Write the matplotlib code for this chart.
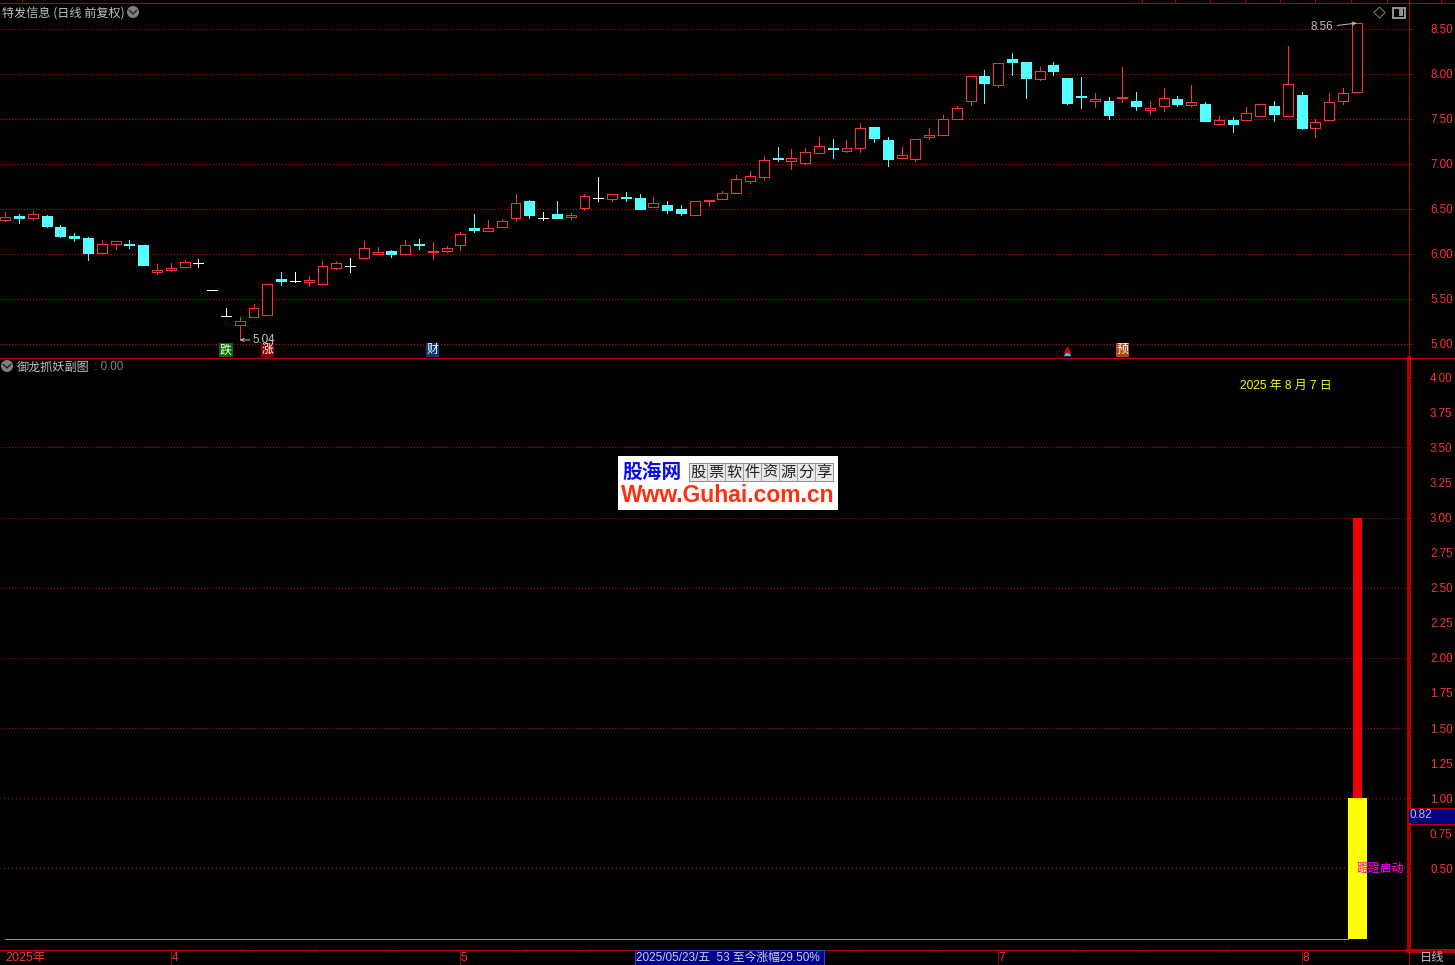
import matplotlib
matplotlib.use("Agg")
import matplotlib.pyplot as plt
from matplotlib.patches import Rectangle, Circle, Polygon
from matplotlib.lines import Line2D
from matplotlib.transforms import Affine2D, blended_transform_factory
from matplotlib.ticker import FixedLocator, FormatStrFormatter, NullFormatter

W, H = 1455, 965
FONT = ['Liberation Sans', 'Noto Sans CJK SC', 'DejaVu Sans']
CJK = ['Noto Sans CJK SC', 'DejaVu Sans']
plt.rcParams['font.family'] = FONT

# ---- daily candles -------------------------------------------------------
opens = [6.37,6.42,6.40,6.42,6.29,6.19,6.17,6.01,6.11,6.11,6.09,5.80,5.82,5.85,5.89,5.59,5.31,5.21,5.30,5.32,
         5.72,5.69,5.68,5.66,5.84,5.86,5.95,6.00,6.03,5.99,6.11,6.02,6.03,6.09,6.28,6.25,6.29,6.40,6.58,6.40,
         6.44,6.41,6.51,6.62,6.61,6.63,6.62,6.52,6.54,6.49,6.43,6.58,6.61,6.67,6.81,6.85,7.06,7.03,7.01,7.12,
         7.17,7.14,7.17,7.40,7.26,7.06,7.05,7.29,7.32,7.49,7.69,7.97,7.87,8.16,8.13,7.94,8.10,7.95,7.75,7.69,
         7.69,7.73,7.70,7.59,7.64,7.72,7.65,7.66,7.44,7.48,7.48,7.53,7.64,7.53,7.76,7.39,7.48,7.70,7.79]
highs = [6.46,6.44,6.47,6.43,6.32,6.23,6.18,6.15,6.14,6.15,6.09,5.88,5.89,5.93,5.94,5.59,5.39,5.29,5.44,5.66,
         5.79,5.80,5.75,5.92,5.92,5.95,6.14,6.07,6.04,6.15,6.16,6.13,6.08,6.24,6.44,6.37,6.38,6.66,6.59,6.46,
         6.58,6.45,6.66,6.85,6.66,6.68,6.66,6.63,6.58,6.54,6.58,6.60,6.70,6.87,6.92,7.08,7.18,7.16,7.17,7.30,
         7.27,7.26,7.45,7.40,7.30,7.18,7.27,7.39,7.54,7.64,7.97,8.04,8.12,8.23,8.13,8.07,8.13,7.95,7.96,7.78,
         7.74,8.07,7.79,7.70,7.84,7.75,7.87,7.68,7.53,7.52,7.63,7.66,7.69,8.30,7.80,7.50,7.78,7.84,8.56]
lows = [6.36,6.34,6.37,6.30,6.18,6.14,5.93,6.00,6.05,6.06,5.87,5.77,5.81,5.85,5.85,5.59,5.31,5.04,5.30,5.32,
        5.65,5.68,5.64,5.66,5.83,5.80,5.95,6.00,5.96,5.99,6.05,5.94,6.02,6.04,6.24,6.25,6.29,6.36,6.39,6.37,
        6.40,6.38,6.48,6.58,6.58,6.58,6.50,6.52,6.45,6.43,6.43,6.53,6.61,6.67,6.78,6.83,7.03,6.94,7.00,7.12,
        7.06,7.13,7.13,7.24,6.97,7.06,7.03,7.27,7.32,7.49,7.65,7.67,7.85,7.98,7.73,7.93,7.98,7.66,7.62,7.63,
        7.50,7.68,7.60,7.55,7.58,7.64,7.64,7.47,7.43,7.35,7.48,7.53,7.47,7.53,7.38,7.29,7.48,7.66,7.79]
closes = [6.41,6.39,6.44,6.31,6.20,6.17,6.01,6.11,6.14,6.09,5.87,5.82,5.84,5.91,5.89,5.59,5.31,5.25,5.39,5.66,
          5.70,5.69,5.71,5.86,5.90,5.86,6.06,6.02,6.00,6.09,6.10,6.03,6.06,6.22,6.26,6.28,6.36,6.56,6.43,6.40,
          6.40,6.43,6.64,6.62,6.66,6.62,6.50,6.56,6.48,6.45,6.58,6.60,6.67,6.83,6.86,7.04,7.05,7.06,7.13,7.20,
          7.16,7.17,7.40,7.28,7.05,7.09,7.27,7.32,7.50,7.62,7.97,7.89,8.12,8.13,7.95,8.03,8.03,7.67,7.74,7.72,
          7.54,7.74,7.64,7.62,7.73,7.66,7.68,7.47,7.48,7.44,7.56,7.66,7.55,7.88,7.40,7.46,7.68,7.78,8.56]

# ---- axis labels ---------------------------------------------------------
price_major = [5.0, 5.5, 6.0, 6.5, 7.0, 7.5, 8.0, 8.5]
price_minor = [5.25, 5.75, 6.25, 6.75, 7.25, 7.75, 8.25]
sub_major = [0.5, 1.0, 1.5, 2.0, 2.5, 3.0, 3.5, 4.0]
sub_minor = [0.75, 1.25, 1.75, 2.25, 2.75, 3.25, 3.75]
sub_grid_dim = [1.5, 2.0, 2.5, 3.0, 3.5]
sub_grid_bright = [0.5, 1.0]
month_idx = [12, 33, 72, 94]
month_labels = ['4', '5', '7', '8']
week_idx = [17, 22.4, 27.7, 37.7, 42.5, 62, 67, 77.5, 83, 88.5]

# ---- indicator -----------------------------------------------------------
bar_idx = 98
yellow_top = 1.0
red_top = 3.0
current_value = 0.82

# ---- signals / annotations ----------------------------------------------
badge_idx = [16, 19, 31, 81]
badge_text = ['跌', '涨', '财', '预']
badge_fill = ['#006e00', '#8a0000', '#0a3a70', '#a84a10']
low_label = '5.04'
high_label = '8.56'
title_top = '特发信息 (日线 前复权)'
title_sub = '御龙抓妖副图'
sub_value = ' : 0.00'
date_text = '2025 年 8 月 7 日'
signal_text = '蹬蹬启动'
footer_text = '2025/05/23/五  53 至今涨幅29.50%'
logo_cells = list('股票软件资源分享')

RED = '#ff3232'
CYAN = '#54ffff'
DARK = '#b40000'
GREY = '#c0c0c0'
ONE_PX = 0.72

fig = plt.figure(figsize=(W / 100, H / 100), dpi=100, facecolor='black')
PX = Affine2D().scale(1 / W, -1 / H).translate(0, 1) + fig.transFigure


def axes_px(x0, y0, x1, y1):
    ax = fig.add_axes([x0 / W, 1 - y1 / H, (x1 - x0) / W, (y1 - y0) / H], facecolor='black')
    for s in ax.spines.values():
        s.set_visible(False)
    return ax


def idx_lim():
    s = 13.79
    return (0 - 5.3) / s, (1408 - 5.3) / s


def style_y(ax, major, minor, minor_labels):
    ax.yaxis.tick_right()
    ax.yaxis.set_major_locator(FixedLocator(major))
    ax.yaxis.set_minor_locator(FixedLocator(minor))
    ax.yaxis.set_major_formatter(FormatStrFormatter('%.2f'))
    ax.yaxis.set_minor_formatter(FormatStrFormatter('%.2f') if minor_labels else NullFormatter())
    ax.tick_params(axis='y', which='major', length=2.9, width=ONE_PX, color=DARK,
                   labelcolor=RED, labelsize=8.4, pad=13.0)
    ax.tick_params(axis='y', which='minor', length=1.2, width=ONE_PX, color=DARK,
                   labelcolor=RED, labelsize=8.4, pad=14.6, labelright=minor_labels)


def grid(ax, values, color, gap):
    for v in values:
        ax.axhline(v, color=color, lw=ONE_PX, ls=(0.5, (1, gap)), dash_capstyle='butt',
                   antialiased=True, snap=True, zorder=1)


# ---- price panel ---------------------------------------------------------
ax = axes_px(0, 3, 1408, 357)
ax.set_xlim(*idx_lim())
ax.set_ylim(8.5 - (357 - 28.5) / 90, 8.5 + (28.5 - 3) / 90)
ax.set_xticks([])
style_y(ax, price_major, price_minor, False)
grid(ax, price_major, '#e00000', 2)

for i, (o, h, l, c) in enumerate(zip(opens, highs, lows, closes)):
    col = RED if c > o else (CYAN if c < o else '#ffffff')
    ax.plot([i, i], [l, h], color=col, lw=ONE_PX, antialiased=False, zorder=2, solid_capstyle='butt')
    if c == o:
        ax.plot([i - 0.36, i + 0.36], [c, c], color=col, lw=ONE_PX, antialiased=False, zorder=3,
                solid_capstyle='butt')
    else:
        face = 'black' if c > o else col
        ax.add_patch(Rectangle((i - 0.36, min(o, c)), 0.72, abs(c - o), facecolor=face, edgecolor=col,
                               lw=ONE_PX, antialiased=False, zorder=3))

ax.annotate(low_label, xy=(17, 5.04), xytext=(9.4, 0), textcoords='offset points', color=GREY, fontsize=8.4,
            ha='left', va='center', arrowprops=dict(arrowstyle='->', color=GREY, lw=0.7, shrinkA=0, shrinkB=0,
                                                    mutation_scale=6), zorder=6)
ax.annotate(high_label, xy=(98, 8.56), xytext=(-17, -3), textcoords='offset points', color=GREY, fontsize=8.4,
            ha='right', va='center', arrowprops=dict(arrowstyle='->', color=GREY, lw=0.7, shrinkA=1, shrinkB=0,
                                                     mutation_scale=6), zorder=6)

for i, t, f in zip(badge_idx, badge_text, badge_fill):
    ax.text(i, 4.93, t, color='white', fontsize=8.6, family=CJK, ha='center', va='center', zorder=6,
            bbox=dict(boxstyle='square,pad=0.06', facecolor=f, edgecolor='none'))
# small up-arrow flag under candle 77
ax.scatter([77], [4.94], marker='^', s=28, color='#dd0000', zorder=7, linewidths=0)
ax.scatter([77], [4.90], marker='^', s=28, color='#28c8ff', zorder=6, linewidths=0)

# ---- indicator panel -----------------------------------------------------
ax2 = axes_px(0, 358, 1408, 949)
ax2.set_xlim(*idx_lim())
ax2.set_ylim((938.5 - 949) / 140.3, (938.5 - 358) / 140.3)
style_y(ax2, sub_major, sub_minor, True)
grid(ax2, sub_grid_dim, '#b80000', 2)
grid(ax2, sub_grid_bright, '#e80000', 3)
ax2.axhline(0, xmin=5 / 1408, xmax=1348 / 1408, color='#8c8c8c', lw=ONE_PX, antialiased=False, zorder=2)
ax2.bar([bar_idx + 0.06], [yellow_top], width=19 / 13.79, color='#ffff00', zorder=3, antialiased=False)
ax2.bar([bar_idx + 0.06], [red_top - yellow_top], bottom=[yellow_top], width=9 / 13.79, color='#f00000', zorder=3,
        antialiased=False)
ax2.text(bar_idx + 24 / 13.79, 0.5, signal_text, color='#ff00ff', fontsize=8.6, family=CJK, ha='center',
         va='center', zorder=5, clip_on=False)

ax2.xaxis.tick_bottom()
ax2.set_xticks(month_idx)
ax2.set_xticks(week_idx, minor=True)
ax2.set_xticklabels([])
ax2.tick_params(axis='x', which='major', length=11, width=ONE_PX, color=DARK, labelbottom=False)
ax2.tick_params(axis='x', which='minor', length=2.2, width=ONE_PX, color=DARK)
xt = blended_transform_factory(ax2.transData, PX)
for i, t in zip(month_idx, month_labels):
    ax2.text(i + 0.04, 958, t, transform=xt, color=RED, fontsize=8.6, ha='left', va='center', clip_on=False)
ax2.text(0, 958, '2025年', transform=xt, color=RED, fontsize=9, ha='left', va='center', clip_on=False,
         family=FONT)


# ---- chrome in pixel coordinates ----------------------------------------
def hline(y, x0, x1, lw=ONE_PX, c=DARK, z=3):
    fig.add_artist(Line2D([x0, x1], [y, y], transform=PX, color=c, lw=lw, antialiased=False, zorder=z))


def vline(x, y0, y1, lw=ONE_PX, c=DARK, z=3):
    fig.add_artist(Line2D([x, x], [y0, y1], transform=PX, color=c, lw=lw, antialiased=False, zorder=z))


def text(x, y, s, **kw):
    kw.setdefault('va', 'center')
    kw.setdefault('ha', 'left')
    fig.text(x, y, s, transform=PX, **kw)


def rect(x0, y0, x1, y1, fc, ec='none', lw=0.0, z=4):
    fig.add_artist(Rectangle((x0, y0), x1 - x0, y1 - y0, transform=PX, facecolor=fc, edgecolor=ec, lw=lw,
                             antialiased=False, zorder=z))


hline(2.5, 0, W)
hline(357.5, 0, W)
hline(949.5, 0, W)
hline(951, 1408, W, 1.5)
vline(1408.5, 0, 358)
vline(1408.5, 358, 950, 1.5)
vline(1408.5, 950, H)
for xx in [22, 1142, 1175, 1210, 1245, 1280, 1315, 1351, 1387, 1441]:
    vline(xx, 0, 2)

# titles and icons
text(2, 13, title_top, color=GREY, fontsize=8.7, family=CJK)
fig.add_artist(Circle((133, 12), 6, transform=PX, facecolor='#808080', edgecolor='none'))
fig.add_artist(Line2D([129.5, 133, 136.5], [10.5, 14, 10.5], transform=PX, color='#202020', lw=1.0))
text(17, 367, title_sub, color=GREY, fontsize=8.7, family=CJK)
text(91, 367, sub_value, color='#808080', fontsize=8.4)
fig.add_artist(Circle((7, 366), 6, transform=PX, facecolor='#808080', edgecolor='none'))
fig.add_artist(Line2D([3.5, 7, 10.5], [364.5, 368, 364.5], transform=PX, color='#202020', lw=1.0))
fig.add_artist(Polygon([[1379.5, 7], [1385, 12.5], [1379.5, 18], [1374, 12.5]], closed=True, transform=PX,
                       facecolor='none', edgecolor='#707070', lw=0.8))
rect(1392.5, 7.5, 1404.5, 17.5, 'none', '#909090', 1.3, 5)
rect(1398.5, 9, 1402.5, 16, '#909090', z=5)

text(1240, 386, date_text, color='#ffff00', fontsize=8.6, family=FONT)

# current value tag
rect(1409, 808, W, 823, '#000080', z=5)
hline(807.5, 1409, W, z=6)
hline(823.5, 1409, W, z=6)
text(1409, 815.5, f'{current_value:.2f}', color=GREY, fontsize=8.4, zorder=6)

# footer
rect(635, 950, 824, 965, '#000090', '#3a3ac8', ONE_PX, 5)
text(636, 957.5, footer_text, color='#d0d0d0', fontsize=8.5, family=FONT, zorder=6)
text(1420, 958, '日线', color=GREY, fontsize=8.8, family=CJK)

# logo
rect(618, 456, 838, 510, '#ffffff', z=7)
text(622, 472, '股海网', color='#0a0aee', fontsize=14.2, family=CJK, weight='bold', zorder=8)
rect(689, 463, 833, 481, '#e8e8e8', '#909090', 0.6, 8)
for k, ch in enumerate(logo_cells):
    cx = 689 + 18 * k
    if k:
        vline(cx, 463, 481, 0.5, '#a0a0a0', z=8.5)
    text(cx + 9, 472, ch, color='#202020', fontsize=11, family=CJK, ha='center', zorder=9)
text(621, 495, 'Www.Guhai.com.cn', color='#ff3010', fontsize=16.5, weight='bold',
     family=['Liberation Sans', 'DejaVu Sans'], zorder=8)

fig.savefig('out.png', dpi=100, facecolor='black')
